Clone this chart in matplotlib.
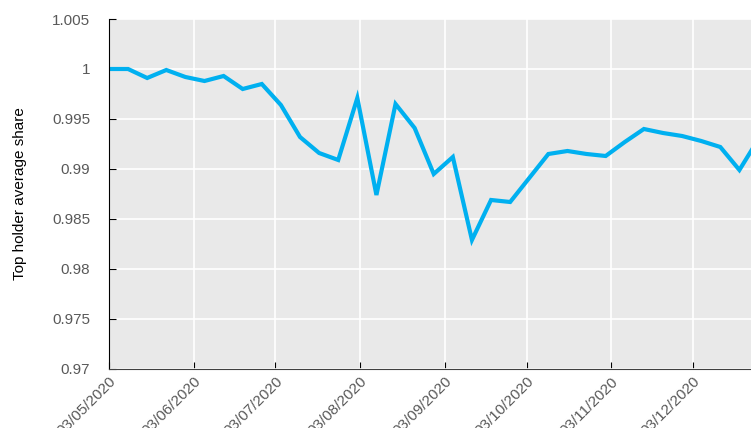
import matplotlib
matplotlib.use("Agg")
import matplotlib.pyplot as plt
import matplotlib.dates as mdates
import pandas as pd

plt.rcParams['font.family'] = ['Liberation Sans', 'DejaVu Sans']

# weekly observations, starting 3 May 2020
dates = pd.date_range("2020-05-03", periods=35, freq="7D")
share = [1.0000, 1.0000, 0.9991, 0.9999, 0.9992, 0.9988, 0.9993, 0.9980, 0.9985,
         0.9964, 0.9932, 0.9916, 0.9909, 0.9971, 0.9874, 0.9965, 0.9941, 0.9895,
         0.9912, 0.9829, 0.9869, 0.9867, 0.9891, 0.9915, 0.9918, 0.9915, 0.9913,
         0.9927, 0.9940, 0.9936, 0.9933, 0.9928, 0.9922, 0.9899, 0.9930]

month_ticks = pd.date_range("2020-05-03", periods=8, freq=pd.DateOffset(months=1))
yticks = [0.97, 0.975, 0.98, 0.985, 0.99, 0.995, 1.0, 1.005]
ylabels = ["0.97", "0.975", "0.98", "0.985", "0.99", "0.995", "1", "1.005"]

fig = plt.figure(figsize=(7.51, 4.28), dpi=100)
ax = fig.add_axes([0.1451, 0.1379, 0.8549, 0.8177])
ax.set_facecolor("#e9e9e9")

ax.plot(dates, share, color="#00b0f0", linewidth=3.0, solid_joinstyle="miter")

ax.set_ylim(0.97, 1.005)
ax.set_xlim(pd.Timestamp("2020-05-03"), pd.Timestamp("2020-12-24 06:00"))
ax.set_yticks(yticks)
ax.set_yticklabels(ylabels)
ax.set_xticks(month_ticks)
ax.xaxis.set_major_formatter(mdates.DateFormatter("%d/%m/%Y"))

ax.grid(True, color="white", linewidth=1.2)
ax.set_axisbelow(True)

for s in ["top", "right"]:
    ax.spines[s].set_visible(False)
ax.spines["left"].set_color("black")
ax.spines["bottom"].set_color("#404040")

ax.tick_params(axis="both", direction="in", length=5, colors="#595959", labelsize=11)
ax.tick_params(axis="x", pad=4, color="black")
ax.tick_params(axis="y", pad=13.5, color="black")
for lab in ax.get_xticklabels():
    lab.set_rotation(45)
    lab.set_ha("right")
    lab.set_rotation_mode("anchor")

ax.set_ylabel("Top holder average share", fontsize=11, color="black", labelpad=18)

fig.savefig("out.png", dpi=100)
